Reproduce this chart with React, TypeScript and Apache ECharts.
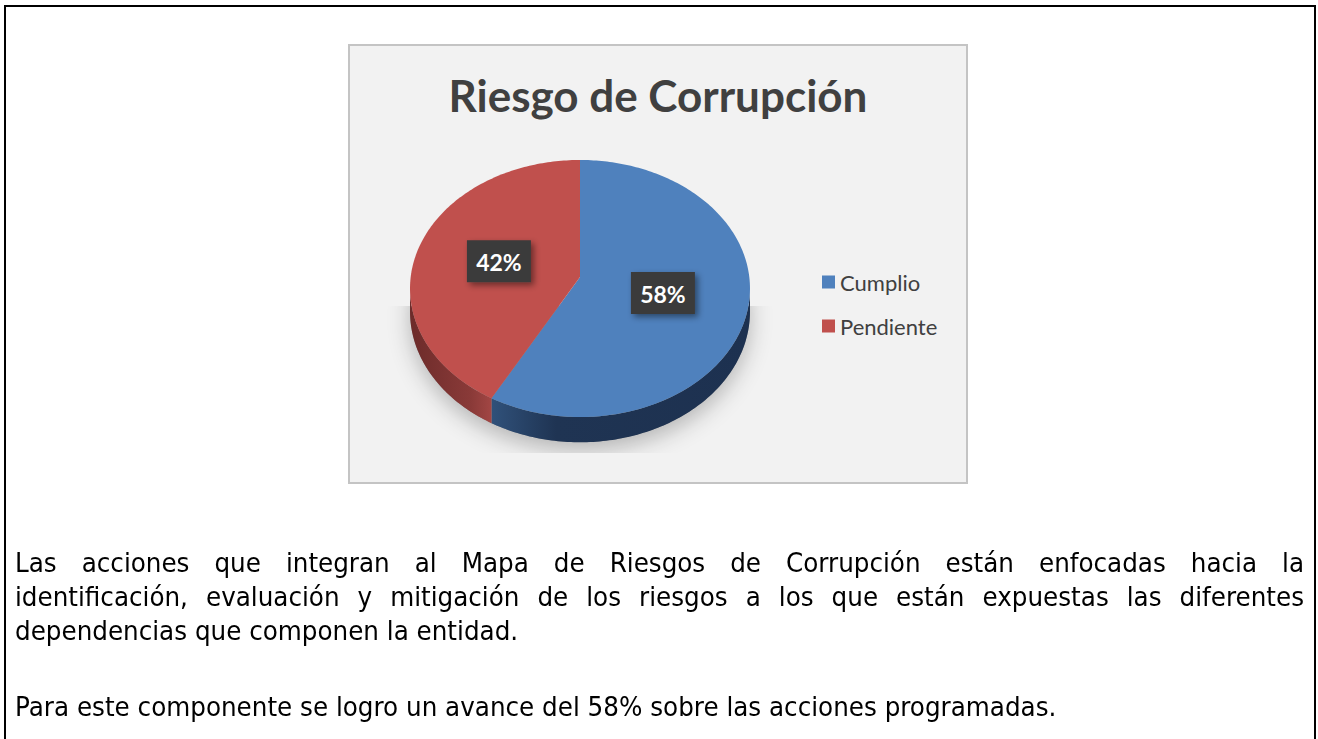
import React, { useEffect, useRef, useMemo } from "react";
import * as echarts from "echarts";

const titleText = "Riesgo de Corrupción";
const categories = ["Cumplio", "Pendiente"];
const values = [58, 42];
const topColors = ["#4F81BD", "#C0504D"];
const sideColors = [
  ["#30517A", "#1F3453", "#1D3150"],
  ["#A24644", "#8A3A38", "#6C2B2A"],
];
const paragraph1 = [
  "Las acciones que integran al Mapa de Riesgos de Corrupción están enfocadas hacia la",
  "identificación, evaluación y mitigación de los riesgos a los que están expuestas las diferentes",
  "dependencias que componen la entidad.",
];
const paragraph2 = "Para este componente se logro un avance del 58% sobre las acciones programadas.";

// pie geometry (pixels inside the chart box)
const CX = 232;
const CY = 233;
const AX = 169.3;
const BY = 127.5;
const KP = 0.0895;
const DEPTH = 23;

function proj(X: number, Z: number): [number, number] {
  const f = 1 / (1 + KP * Z);
  return [CX + AX * X * f, CY - BY * Z * f];
}
function rim(t: number, r = 1): [number, number] {
  return proj(r * Math.sin(t), r * Math.cos(t));
}
function rimBottom(t: number): [number, number] {
  const Z = Math.cos(t);
  const f = 1 / (1 + KP * Z);
  const p = proj(Math.sin(t), Z);
  return [p[0], p[1] + DEPTH * f];
}
function arcPts(a: number, b: number, fn: (t: number) => [number, number]) {
  const n = Math.max(2, Math.ceil(((b - a) * 180) / Math.PI));
  const pts: [number, number][] = [];
  for (let k = 0; k <= n; k++) pts.push(fn(a + ((b - a) * k) / n));
  return pts;
}

const total = values.reduce((s, v) => s + v, 0);

function makeRender(i: number) {
  return (params: any, api: any) => {
    const v = api.value(0);
    let start = 0;
    for (let j = 0; j < i; j++) start += values[j];
    const t0 = (start / total) * Math.PI * 2;
    const t1 = ((start + v) / total) * Math.PI * 2;
    const children: any[] = [];
    const sil = Math.acos(-KP);
    if (i === 0) {
      const bottom = arcPts(0, Math.PI * 2, rimBottom);
      children.push({
        type: "polygon",
        shape: { points: bottom },
        style: {
          fill: "rgba(120,120,120,0.6)",
          shadowBlur: 22,
          shadowOffsetY: 8,
          shadowColor: "rgba(0,0,0,0.42)",
        },
        clipPath: { type: "rect", shape: { x: 30, y: 262, width: 420, height: 147 } },
        z2: -10,
      });
    }
    const a = Math.max(t0, sil);
    const b = Math.min(t1, Math.PI * 2 - sil);
    if (a < b) {
      const topEdge = arcPts(a, b, rim);
      const botEdge = arcPts(a, b, rimBottom).reverse();
      const sc = sideColors[i];
      children.push({
        type: "polygon",
        shape: { points: topEdge.concat(botEdge) },
        style: {
          fill: new echarts.graphic.LinearGradient(i === 0 ? 1 : 0, 0, i === 0 ? 0 : 1, 0, [
            { offset: 0, color: sc[2] },
            { offset: 0.75, color: sc[1] },
            { offset: 1, color: sc[0] },
          ]),
        },
        z2: 0,
      });
    }
    const face = [proj(0, 0) as [number, number]].concat(arcPts(t0, t1, rim));
    children.push({
      type: "polygon",
      shape: { points: face },
      style: { fill: topColors[i] },
      z2: 10,
    });
    const tm = (t0 + t1) / 2;
    const lp = rim(tm, 0.5);
    children.push({
      type: "rect",
      shape: { x: lp[0] - 32, y: lp[1] - 21, width: 64, height: 42 },
      style: {
        fill: "#3B3B3B",
        shadowBlur: 6,
        shadowOffsetX: 3,
        shadowOffsetY: 3,
        shadowColor: "rgba(0,0,0,0.45)",
      },
      z2: 20,
    });
    children.push({
      type: "text",
      x: lp[0],
      y: lp[1] + 1,
      style: {
        text: Math.round((v / total) * 100) + "%",
        fill: "#FFFFFF",
        fontFamily: "Lato",
        fontWeight: "bold",
        fontSize: 23,
        align: "center",
        verticalAlign: "middle",
      },
      z2: 30,
    });
    return { type: "group", children };
  };
}

const TEXT_FONT = '"DejaVu Sans", sans-serif';
const SQUEEZE = 0.9;
const TEXT_WIDTH = 1289;

export default function App() {
  const ref = useRef<HTMLDivElement>(null);

  const fontSize = useMemo(() => {
    try {
      const c = document.createElement("canvas");
      const ctx = c.getContext("2d")!;
      ctx.font = `100px ${TEXT_FONT}`;
      const w = ctx.measureText(paragraph2).width;
      return Math.min(32, (1042 / (w * SQUEEZE)) * 100);
    } catch (e) {
      return 27;
    }
  }, []);

  useEffect(() => {
    const chart = echarts.init(ref.current!, null, { renderer: "svg" });
    chart.setOption({
      animation: false,
      backgroundColor: "#F2F2F2",
      title: {
        text: titleText,
        left: "center",
        top: 24,
        textStyle: {
          fontFamily: "Lato",
          fontWeight: "bold",
          fontSize: 44,
          color: "#404040",
        },
      },
      legend: {
        orient: "vertical",
        left: 469,
        top: 222,
        itemWidth: 13,
        itemHeight: 13,
        itemGap: 22,
        icon: "rect",
        selectedMode: false,
        data: categories,
        textStyle: {
          fontFamily: "Lato",
          fontSize: 22,
          color: "#404040",
          lineHeight: 22,
        },
      },
      graphic: [
        {
          type: "rect",
          shape: { x: 1, y: 1, width: 618, height: 438 },
          style: { fill: "none", stroke: "#C4C4C4", lineWidth: 2 },
          silent: true,
        },
      ],
      series: categories.map((name, i) => ({
        type: "custom",
        name,
        coordinateSystem: "none",
        renderItem: makeRender(i),
        itemStyle: { color: topColors[i] },
        data: [[values[i]]],
        silent: true,
        z: 2,
      })),
    });
    return () => chart.dispose();
  }, []);

  const lineStyle = (justify: boolean): React.CSSProperties =>
    ({
      width: TEXT_WIDTH / SQUEEZE,
      height: 34,
      lineHeight: "34px",
      whiteSpace: "nowrap",
      textAlign: justify ? "justify" : "left",
      textAlignLast: justify ? "justify" : "left",
      transform: `scaleX(${SQUEEZE})`,
      transformOrigin: "0 0",
    } as React.CSSProperties);

  return (
    <div style={{ position: "absolute", left: 0, top: 0, width: 1318, height: 739, overflow: "hidden", background: "#FFFFFF" }}>
      <div
        style={{
          position: "absolute",
          left: 4,
          top: 5,
          width: 1312,
          height: 800,
          border: "2px solid #000",
          boxSizing: "border-box",
        }}
      />
      <div ref={ref} style={{ position: "absolute", left: 348, top: 44, width: 620, height: 440 }} />
      <div
        style={{
          position: "absolute",
          left: 15,
          top: 546,
          width: TEXT_WIDTH,
          fontFamily: TEXT_FONT,
          fontSize: fontSize,
          color: "#000",
        }}
      >
        {paragraph1.map((l, k) => (
          <div key={k} style={lineStyle(k < paragraph1.length - 1)}>
            {l}
          </div>
        ))}
        <div style={{ height: 42 }} />
        <div style={lineStyle(false)}>{paragraph2}</div>
      </div>
    </div>
  );
}
